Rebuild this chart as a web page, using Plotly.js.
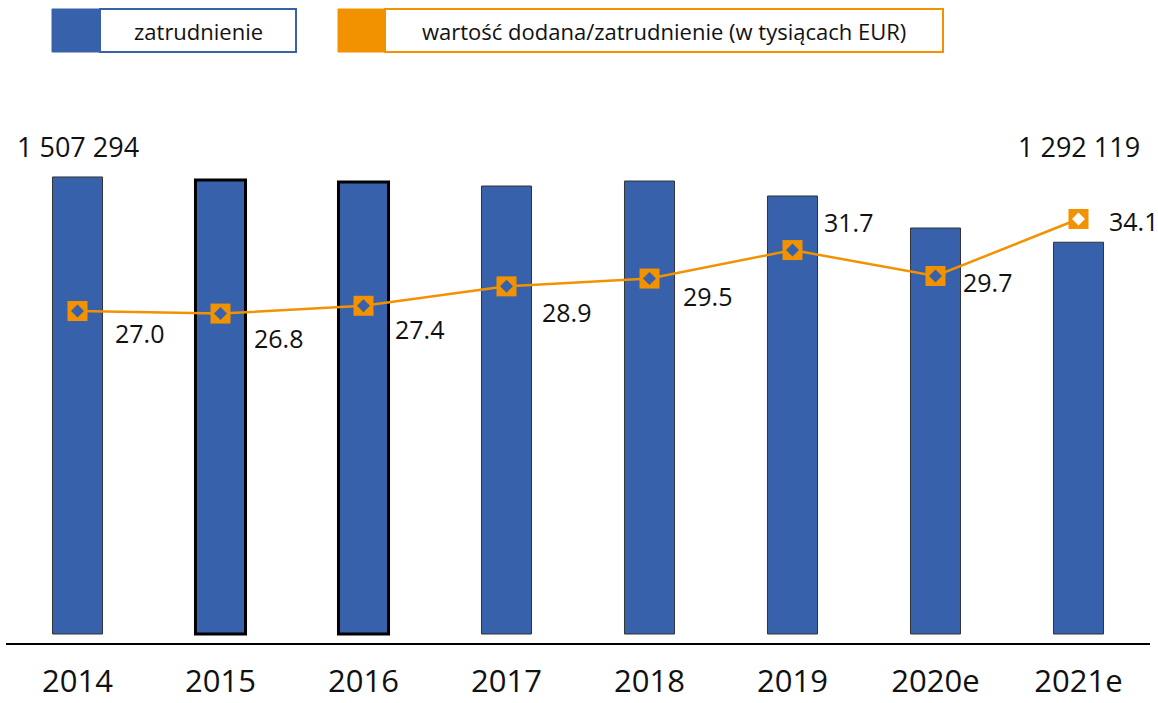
<!DOCTYPE html>
<html>
<head>
<meta charset="utf-8">
<script src="https://cdn.plot.ly/plotly-3.0.1.min.js"></script>
<style>
  html, body { margin: 0; padding: 0; background: #fff; }
  #chart { width: 1158px; height: 703px; }
</style>
</head>
<body>
<div id="chart"></div>
<script>
// ---- data ----
const years = ['2014', '2015', '2016', '2017', '2018', '2019', '2020e', '2021e'];
const employment = [1507294, 1497400, 1490700, 1477500, 1494000, 1444600, 1339000, 1292119];
const valuePerEmployee = [27.0, 26.8, 27.4, 28.9, 29.5, 31.7, 29.7, 34.1];
const seriesNames = ['zatrudnienie', 'wartość dodana/zatrudnienie (w tysiącach EUR)'];
const employmentLabels = ['1 507 294', '1 292 119'];

// ---- style ----
const BLUE = '#3761AA';
const ORANGE = '#F39200';
const W = 1158, H = 703;
const M = { l: 6, r: 8, t: 100, b: 60 };
const PW = W - M.l - M.r, PH = H - M.t - M.b;
const px = x => (x - M.l) / PW;
const py = y => (H - M.b - y) / PH;
const idx = years.map((_, i) => i);

// label offsets (pixels) for the line value labels
const labelShift = [[62, -22], [58, -24], [56, -23], [60, -26], [58, -17], [56, 28], [52, -6], [55, -2]];
const barLineColor = ['#333', '#000', '#000', '#333', '#333', '#333', '#333', '#333'];
const barLineWidth = [1, 3, 3, 1, 1, 1, 1, 1];
const innerColor = [BLUE, BLUE, BLUE, BLUE, BLUE, BLUE, BLUE, '#ffffff'];

const traces = [
  {
    type: 'bar', x: idx, y: employment, name: seriesNames[0],
    marker: { color: BLUE, line: { color: barLineColor, width: barLineWidth } },
    width: 0.35
  },
  {
    type: 'scatter', mode: 'lines+markers', x: idx, y: valuePerEmployee, yaxis: 'y2',
    name: seriesNames[1], line: { color: ORANGE, width: 2.5 },
    marker: { symbol: 'square', size: 20, color: ORANGE }
  },
  {
    type: 'scatter', mode: 'markers', x: idx, y: valuePerEmployee, yaxis: 'y2',
    showlegend: false, hoverinfo: 'skip',
    marker: { symbol: 'diamond', size: 10, color: innerColor }
  }
];

const annotations = [];
valuePerEmployee.forEach((v, i) => {
  annotations.push({
    x: idx[i], y: v, xref: 'x', yref: 'y2', text: v.toFixed(1), showarrow: false,
    xanchor: 'center', yanchor: 'middle',
    xshift: labelShift[i][0], yshift: labelShift[i][1],
    font: { family: 'Open Sans', size: 25, color: '#111' }
  });
});
annotations.push({
  x: idx[0], y: py(146), xref: 'x', yref: 'paper', text: employmentLabels[0], showarrow: false,
  xanchor: 'center', yanchor: 'middle',
  font: { family: 'Open Sans', size: 27, color: '#111' }
});
annotations.push({
  x: idx[idx.length - 1], y: py(146), xref: 'x', yref: 'paper', text: employmentLabels[1], showarrow: false,
  xanchor: 'center', yanchor: 'middle',
  font: { family: 'Open Sans', size: 27, color: '#111' }
});
// custom legend texts
annotations.push({
  x: px(198), y: py(31), xref: 'paper', yref: 'paper', text: seriesNames[0], showarrow: false,
  xanchor: 'center', yanchor: 'middle',
  font: { family: 'Open Sans', size: 22, color: '#111' }
});
annotations.push({
  x: px(664), y: py(31), xref: 'paper', yref: 'paper', text: seriesNames[1], showarrow: false,
  xanchor: 'center', yanchor: 'middle',
  font: { family: 'Open Sans', size: 22, color: '#111' }
});

const shapes = [
  { type: 'rect', xref: 'paper', yref: 'paper', x0: px(52), x1: px(100), y0: py(52), y1: py(9),
    fillcolor: BLUE, line: { color: BLUE, width: 1 } },
  { type: 'rect', xref: 'paper', yref: 'paper', x0: px(100), x1: px(296), y0: py(52), y1: py(9),
    fillcolor: '#fff', line: { color: BLUE, width: 2 } },
  { type: 'rect', xref: 'paper', yref: 'paper', x0: px(338), x1: px(385), y0: py(52), y1: py(9),
    fillcolor: ORANGE, line: { color: ORANGE, width: 1 } },
  { type: 'rect', xref: 'paper', yref: 'paper', x0: px(385), x1: px(943), y0: py(52), y1: py(9),
    fillcolor: '#fff', line: { color: ORANGE, width: 2 } }
];

const layout = {
  width: W, height: H,
  margin: M,
  paper_bgcolor: '#fff', plot_bgcolor: '#fff',
  showlegend: false,
  font: { family: 'Open Sans', color: '#111' },
  xaxis: {
    type: 'linear', range: [-0.5, 7.5], tickmode: 'array', tickvals: idx, ticktext: years,
    showline: true, linecolor: '#000', linewidth: 2,
    ticks: '', showgrid: false, zeroline: false,
    tickfont: { family: 'Open Sans', size: 31, color: '#111' },
    ticklabelstandoff: 10
  },
  yaxis: {
    range: [-29684, 1761200], visible: false, showgrid: false, zeroline: false
  },
  yaxis2: {
    range: [1.38, 43.28], overlaying: 'y', side: 'right', visible: false,
    showgrid: false, zeroline: false
  },
  annotations: annotations,
  shapes: shapes
};

Plotly.newPlot('chart', traces, layout, { displayModeBar: false, staticPlot: true });
</script>
</body>
</html>
